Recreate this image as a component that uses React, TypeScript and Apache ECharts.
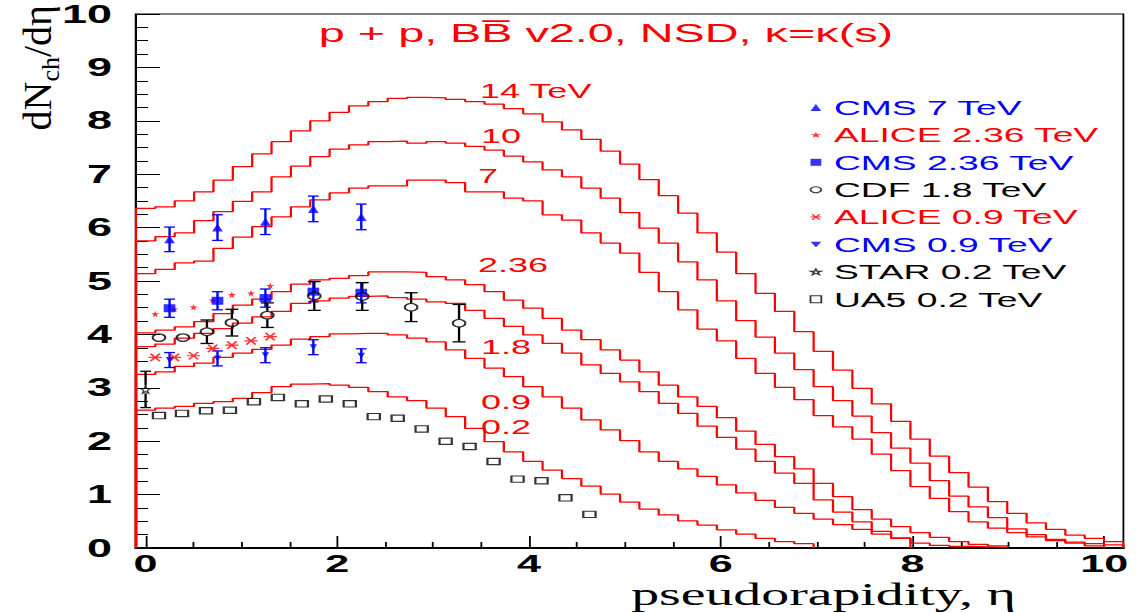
import React, { useEffect, useRef } from "react";
import * as echarts from "echarts";

// ---------- page / stretch (the reference is a horizontally stretched ROOT canvas) ----------
const PAGE_W = 1139;
const PAGE_H = 613;
const INNER_W = 633;
const SX = PAGE_W / INNER_W;
const ix = (px: number) => px / SX;

// ---------- axes ----------
const etaMin = -0.1;
const etaMax = 10.2;
const binCount = 51;
const yMin = 0;
const yMax = 10;
const xMajorTicks = [0, 2, 4, 6, 8, 10];
const xMinorTicks = [0.5, 1, 1.5, 2.5, 3, 3.5, 4.5, 5, 5.5, 6.5, 7, 7.5, 8.5, 9, 9.5];

// ---------- model histograms (bin contents, dN/deta) ----------
const model14 = [6.36, 6.39, 6.5, 6.67, 6.89, 7.14, 7.38, 7.61, 7.81, 8.0, 8.16, 8.28, 8.36, 8.42, 8.44, 8.43, 8.4, 8.36, 8.31, 8.23, 8.13, 7.98, 7.83, 7.65, 7.43, 7.19, 6.9, 6.6, 6.27, 5.9, 5.54, 5.14, 4.77, 4.43, 4.05, 3.68, 3.33, 2.99, 2.7, 2.37, 2.04, 1.72, 1.41, 1.14, 0.87, 0.65, 0.47, 0.35, 0.24, 0.18, 0.12];
const model10 = [5.75, 5.83, 5.9, 6.13, 6.3, 6.49, 6.67, 6.95, 7.15, 7.33, 7.47, 7.55, 7.61, 7.62, 7.58, 7.61, 7.58, 7.52, 7.45, 7.34, 7.23, 7.08, 6.95, 6.74, 6.55, 6.28, 5.99, 5.71, 5.36, 5.02, 4.63, 4.26, 3.95, 3.65, 3.34, 3.02, 2.76, 2.47, 2.16, 1.87, 1.59, 1.26, 0.97, 0.77, 0.57, 0.36, 0.25, 0.16, 0.11, 0.08, 0.06];
const model7 = [5.14, 5.22, 5.34, 5.37, 5.61, 5.82, 6.02, 6.2, 6.39, 6.52, 6.65, 6.74, 6.78, 6.78, 6.89, 6.89, 6.84, 6.67, 6.67, 6.55, 6.5, 6.24, 6.14, 5.9, 5.71, 5.52, 5.16, 4.8, 4.46, 4.1, 3.88, 3.55, 3.27, 3.01, 2.78, 2.48, 2.27, 2.04, 1.76, 1.45, 1.15, 0.93, 0.68, 0.49, 0.37, 0.29, 0.21, 0.14, 0.09, 0.04];
const model236 = [4.03, 4.08, 4.14, 4.24, 4.39, 4.55, 4.66, 4.8, 4.94, 5.02, 5.05, 5.1, 5.17, 5.17, 5.16, 5.08, 5.02, 4.93, 4.8, 4.64, 4.49, 4.3, 4.08, 3.9, 3.71, 3.52, 3.3, 3.05, 2.83, 2.65, 2.44, 2.19, 1.94, 1.71, 1.48, 1.21, 0.96, 0.72, 0.54, 0.4, 0.29, 0.2, 0.12, 0.07, 0.04];
const model18 = [3.77, 3.82, 3.93, 4.02, 4.11, 4.21, 4.33, 4.43, 4.58, 4.63, 4.68, 4.71, 4.72, 4.69, 4.66, 4.61, 4.58, 4.45, 4.3, 4.15, 3.99, 3.83, 3.65, 3.43, 3.27, 3.11, 2.93, 2.71, 2.52, 2.28, 2.07, 1.85, 1.62, 1.4, 1.21, 0.9, 0.67, 0.49, 0.31, 0.18, 0.09, 0.05, 0.03, 0.02, 0.01];
const model09 = [3.25, 3.3, 3.4, 3.46, 3.57, 3.65, 3.72, 3.8, 3.91, 3.96, 4.01, 4.02, 4.02, 3.99, 3.93, 3.86, 3.71, 3.55, 3.37, 3.21, 3.02, 2.83, 2.62, 2.4, 2.21, 2.01, 1.8, 1.62, 1.48, 1.34, 1.18, 1.03, 0.89, 0.76, 0.65, 0.54, 0.44, 0.35, 0.26, 0.19];
const model02 = [2.58, 2.62, 2.65, 2.71, 2.74, 2.8, 2.91, 3.02, 3.07, 3.08, 3.05, 3.01, 2.93, 2.83, 2.76, 2.62, 2.46, 2.24, 1.99, 1.8, 1.62, 1.46, 1.3, 1.16, 1.01, 0.86, 0.73, 0.62, 0.51, 0.43, 0.34, 0.26, 0.18, 0.12, 0.08];

const modelNames = ["14 TeV", "10", "7", "2.36", "1.8", "0.9", "0.2"];
const modelValues = [model14, model10, model7, model236, model18, model09, model02];

// ---------- measurements ----------
const cms7Eta = [0.25, 0.75, 1.25, 1.75, 2.25];
const cms7Val = [5.78, 6.0, 6.11, 6.35, 6.2];
const cms7Err = [0.23, 0.24, 0.24, 0.24, 0.24];

const alice236Eta = [0.1, 0.3, 0.5, 0.7, 0.9, 1.1, 1.3];
const alice236Val = [4.38, 4.47, 4.51, 4.64, 4.74, 4.77, 4.91];

const cms236Eta = [0.25, 0.75, 1.25, 1.75, 2.25];
const cms236Val = [4.49, 4.63, 4.68, 4.8, 4.78];
const cms236Err = [0.17, 0.17, 0.17, 0.19, 0.19];

const cdfEta = [0.14, 0.39, 0.64, 0.9, 1.27, 1.76, 2.26, 2.77, 3.27];
const cdfVal = [3.94, 3.94, 4.05, 4.22, 4.36, 4.72, 4.71, 4.51, 4.21];
const cdfErr = [0.05, 0.05, 0.22, 0.25, 0.23, 0.27, 0.26, 0.27, 0.35];

const alice09Eta = [0.1, 0.3, 0.5, 0.7, 0.9, 1.1, 1.3];
const alice09Val = [3.57, 3.57, 3.6, 3.74, 3.8, 3.88, 3.96];

const cms09Eta = [0.25, 0.75, 1.25, 1.75, 2.25];
const cms09Val = [3.52, 3.55, 3.61, 3.76, 3.6];
const cms09Err = [0.14, 0.14, 0.14, 0.14, 0.13];

const starEta = [0.0];
const starVal = [2.97];
const starErr = [0.34];

const ua5Eta = [0.14, 0.38, 0.63, 0.88, 1.13, 1.38, 1.63, 1.88, 2.13, 2.38, 2.63, 2.88, 3.13, 3.38, 3.63, 3.88, 4.13, 4.38, 4.63];
const ua5Val = [2.48, 2.52, 2.57, 2.58, 2.74, 2.82, 2.7, 2.79, 2.7, 2.46, 2.43, 2.23, 2.0, 1.9, 1.62, 1.29, 1.26, 0.94, 0.63];

const titleText = "p + p, BB\u0305 v2.0, NSD, \u03ba=\u03ba(s)";
const xTitle = "pseudorapidity, \u03b7";

// ---------- styling ----------
const RED = "#ff0000";
const BLUE = "#0000ff";
const BLACK = "#000000";
const SANS = "'Liberation Sans', Arial, Helvetica, sans-serif";
const SERIF = "'Liberation Serif', 'Times New Roman', serif";

const STAR_PATH = "path://M5,0 L6.18,3.62 L10,3.62 L6.91,5.86 L8.09,9.51 L5,7.27 L1.91,9.51 L3.09,5.86 L0,3.62 L3.82,3.62 Z";
const ASTER_PATH = "path://M0,5 L10,5 M1.5,0.5 L8.5,9.5 M8.5,0.5 L1.5,9.5";
const TRI_DOWN_PATH = "path://M0,0 L10,0 L5,9 Z";

function histPoints(values: number[]) {
  const w = (etaMax - etaMin) / binCount;
  const pts: number[][] = [[etaMin, 0]];
  values.forEach((v, i) => {
    const x0 = etaMin + i * w;
    pts.push([x0, v], [x0 + w, v]);
  });
  pts.push([etaMin + values.length * w, 0]);
  return pts;
}

function errorSeries(name: string, xs: number[], vs: number[], es: number[], color: string, capHalf: number, gap: number) {
  return {
    type: "custom",
    name,
    z: 3,
    silent: true,
    data: xs.map((x, i) => [x, vs[i], es[i]]),
    encode: { x: 0, y: 1 },
    renderItem: (params: any, api: any) => {
      const x = api.value(0);
      const v = api.value(1);
      const e = api.value(2);
      const top = api.coord([x, v + e]);
      const mid = api.coord([x, v]);
      const bot = api.coord([x, v - e]);
      const style = { stroke: color, lineWidth: 1.3 };
      const children: any[] = [];
      if (mid[1] - gap > top[1]) {
        children.push({ type: "line", shape: { x1: top[0], y1: top[1], x2: mid[0], y2: mid[1] - gap }, style });
        children.push({ type: "line", shape: { x1: top[0] - capHalf, y1: top[1], x2: top[0] + capHalf, y2: top[1] }, style });
      }
      if (bot[1] > mid[1] + gap) {
        children.push({ type: "line", shape: { x1: mid[0], y1: mid[1] + gap, x2: bot[0], y2: bot[1] }, style });
        children.push({ type: "line", shape: { x1: bot[0] - capHalf, y1: bot[1], x2: bot[0] + capHalf, y2: bot[1] }, style });
      }
      return { type: "group", children };
    },
  };
}

function scatter(name: string, xs: number[], vs: number[], symbol: string, size: number[], itemStyle: any) {
  return {
    type: "scatter",
    name,
    z: 4,
    data: xs.map((x, i) => [x, vs[i]]),
    symbol,
    symbolSize: size,
    itemStyle,
    silent: true,
  };
}

const legendItems = [
  { name: "CMS 7 TeV", color: BLUE },
  { name: "ALICE 2.36 TeV", color: RED },
  { name: "CMS 2.36 TeV", color: BLUE },
  { name: "CDF 1.8 TeV", color: BLACK },
  { name: "ALICE 0.9 TeV", color: RED },
  { name: "CMS 0.9 TeV", color: BLUE },
  { name: "STAR 0.2 TeV", color: BLACK },
  { name: "UA5 0.2 TeV", color: BLACK },
];

// label anchor (original pixel space): left x, vertical centre y
const modelLabelPos = [
  [480, 91],
  [481, 136],
  [478, 176],
  [478, 265],
  [481, 347],
  [481, 402],
  [481, 427],
];

function buildOption() {
  const histSeries = modelValues.map((vals, k) => ({
    type: "line",
    name: "BB v2.0 " + modelNames[k],
    data: histPoints(vals),
    showSymbol: false,
    symbol: "none",
    silent: true,
    z: 2,
    lineStyle: { color: RED, width: 1.25 },
  }));

  const hollow = (c: string, w = 1.1) => ({ color: "transparent", borderColor: c, borderWidth: w });

  const series: any[] = [
    ...histSeries,
    errorSeries("CMS 7 TeV err", cms7Eta, cms7Val, cms7Err, BLUE, 3, 0),
    errorSeries("CMS 2.36 TeV err", cms236Eta, cms236Val, cms236Err, BLUE, 3, 0),
    errorSeries("CDF 1.8 TeV err", cdfEta, cdfVal, cdfErr, BLACK, 3.6, 4),
    errorSeries("CMS 0.9 TeV err", cms09Eta, cms09Val, cms09Err, BLUE, 3, 0),
    errorSeries("STAR 0.2 TeV err", starEta, starVal, starErr, BLACK, 3, 4),
    scatter("CMS 7 TeV", cms7Eta, cms7Val, "triangle", [6, 8], { color: BLUE }),
    scatter("ALICE 2.36 TeV", alice236Eta, alice236Val, STAR_PATH, [4.6, 6.5], { color: RED }),
    scatter("CMS 2.36 TeV", cms236Eta, cms236Val, "rect", [6.5, 8], { color: BLUE }),
    scatter("CDF 1.8 TeV", cdfEta, cdfVal, "circle", [7, 7.5], hollow(BLACK, 1.2)),
    scatter("ALICE 0.9 TeV", alice09Eta, alice09Val, ASTER_PATH, [7.4, 7.5], { color: "transparent", borderColor: RED, borderWidth: 1.2 }),
    scatter("CMS 0.9 TeV", cms09Eta, cms09Val, TRI_DOWN_PATH, [4.2, 6], { color: BLUE }),
    scatter("STAR 0.2 TeV", starEta, starVal, STAR_PATH, [5.5, 8], hollow(BLACK, 0.9)),
    scatter("UA5 0.2 TeV", ua5Eta, ua5Val, "rect", [6.8, 6.3], hollow(BLACK, 1.2)),
  ];

  const graphics: any[] = modelNames.map((t, k) => ({
    type: "text",
    x: ix(modelLabelPos[k][0]),
    y: modelLabelPos[k][1],
    z: 10,
    silent: true,
    style: { text: t, fill: RED, fontSize: 20, fontFamily: SANS, align: "left", verticalAlign: "middle" },
  }));

  // y-axis title, rotated; its glyph height is not stretched in the reference
  graphics.push({
    type: "text",
    x: ix(40),
    y: 5,
    rotation: Math.PI / 2,
    scaleY: 1 / SX,
    z: 10,
    silent: true,
    style: {
      text: "{a|dN}{b|ch}{a|/d\u03b7}",
      align: "right",
      verticalAlign: "middle",
      rich: {
        a: { fontFamily: SERIF, fontSize: 40, fill: BLACK, lineHeight: 46, verticalAlign: "top" },
        b: { fontFamily: SERIF, fontSize: 26, fill: BLACK, lineHeight: 18, verticalAlign: "bottom" },
      },
    },
  });

  graphics.push({
    type: "text",
    x: ix(1016),
    y: 579,
    z: 10,
    silent: true,
    style: { text: xTitle, fill: BLACK, fontSize: 31, fontFamily: SERIF, align: "right", verticalAlign: "top" },
  });

  return {
    animation: false,
    backgroundColor: "#ffffff",
    title: {
      text: titleText,
      left: ix(606),
      top: 20,
      padding: 0,
      textAlign: "center",
      textStyle: { color: RED, fontSize: 26, fontWeight: "normal", fontFamily: SANS },
    },
    grid: {
      left: ix(136),
      right: ix(PAGE_W - 1123.4),
      top: 14,
      bottom: PAGE_H - 548,
      containLabel: false,
      outerBoundsMode: "none",
      show: true,
      borderColor: BLACK,
      borderWidth: 1,
      backgroundColor: "transparent",
    },
    legend: {
      data: legendItems.map((l) => ({ name: l.name, textStyle: { color: l.color } })),
      orient: "vertical",
      left: ix(815) - 3,
      top: 97,
      padding: 0,
      itemWidth: 6,
      itemHeight: 7,
      itemGap: 6.4,
      selectedMode: false,
      itemStyle: { borderWidth: 1 },
      textStyle: { fontSize: 20.7, fontFamily: SANS, lineHeight: 20, padding: [0, 0, 0, 2] },
    },
    xAxis: [
      {
        type: "value",
        min: etaMin,
        max: etaMax,
        position: "bottom",
        axisLine: { show: true, onZero: false, lineStyle: { color: BLACK, width: 2 } },
        axisTick: { show: true, inside: true, length: 12, customValues: xMajorTicks, lineStyle: { color: BLACK, width: 1 } },
        axisLabel: {
          show: true,
          customValues: xMajorTicks,
          margin: 5,
          lineHeight: 20,
          fontSize: 24,
          fontWeight: "bold",
          fontFamily: SANS,
          color: BLACK,
          formatter: (v: number) => String(v),
        },
        splitLine: { show: false },
      },
      {
        type: "value",
        min: etaMin,
        max: etaMax,
        position: "bottom",
        axisLine: { show: false },
        axisTick: { show: true, inside: true, length: 6, customValues: xMinorTicks, lineStyle: { color: BLACK, width: 1 } },
        axisLabel: { show: false },
        splitLine: { show: false },
      },
    ],
    yAxis: {
      type: "value",
      min: yMin,
      max: yMax,
      interval: 1,
      position: "left",
      axisLine: { show: true, onZero: false, lineStyle: { color: BLACK, width: 1.2 } },
      axisTick: { show: true, inside: true, length: ix(24), lineStyle: { color: BLACK, width: 1 } },
      minorTick: { show: true, splitNumber: 4, length: ix(12), lineStyle: { color: BLACK, width: 1 } },
      axisLabel: { show: true, margin: ix(24), fontSize: 25, fontWeight: "bold", fontFamily: SANS, color: BLACK },
      splitLine: { show: false },
      minorSplitLine: { show: false },
    },
    graphic: graphics,
    series,
  };
}

export default function App() {
  const ref = useRef<HTMLDivElement>(null);
  useEffect(() => {
    if (!ref.current) return;
    const chart = echarts.init(ref.current, null, { renderer: "svg", width: INNER_W, height: PAGE_H });
    chart.setOption(buildOption() as any);
    return () => chart.dispose();
  }, []);
  return (
    <div
      ref={ref}
      style={{
        position: "fixed",
        left: 0,
        top: 0,
        width: INNER_W,
        height: PAGE_H,
        transform: `scaleX(${SX})`,
        transformOrigin: "0 0",
        background: "#fff",
      }}
    />
  );
}
